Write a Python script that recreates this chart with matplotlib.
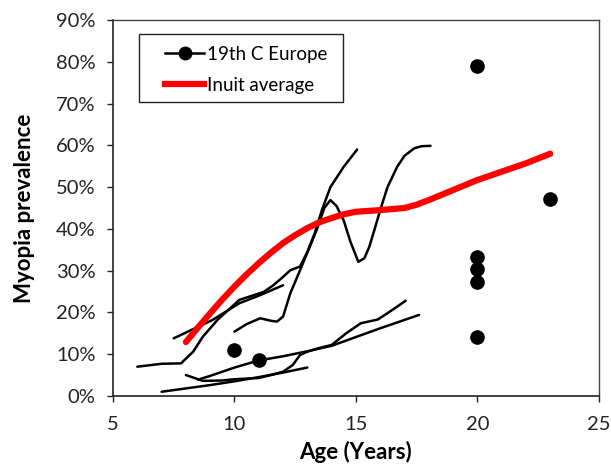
import numpy as np
import matplotlib.pyplot as plt
from matplotlib.lines import Line2D
from matplotlib.patches import Rectangle
from matplotlib.ticker import PercentFormatter

plt.rcParams['font.family'] = ['Lato', 'DejaVu Sans']

# 19th C Europe - individual studies (age, prevalence %)
line_a_x = [6, 7, 7.8, 8.3, 8.7, 9.3, 9.6, 10.2, 11.2, 11.6, 12.0, 12.3, 12.7, 13.0, 13.3, 13.6, 13.95, 14.5, 15.05]
line_a_y = [7.0, 7.7, 7.8, 10.6, 14.2, 18.2, 19.8, 23.0, 24.9, 26.5, 28.5, 30.1, 31.0, 34.5, 38.9, 44.5, 50.0, 54.9, 59.0]

line_b_x = [7.5, 9.1, 10.2, 11.0, 12.0]
line_b_y = [13.8, 18.2, 22.2, 24.0, 26.5]

line_c_x = [10.0, 10.5, 11.06, 11.5, 11.75, 12.0, 12.3, 12.7, 13.05, 13.4, 13.7, 13.95, 14.2, 14.5, 14.77, 15.1, 15.35,
            15.55, 15.8, 16.0, 16.3, 16.7, 17.0, 17.4, 17.7, 18.07]
line_c_y = [15.4, 17.2, 18.6, 18.0, 17.8, 19.0, 24.6, 30.1, 35.0, 40.0, 45.0, 46.9, 45.5, 42.0, 37.0, 32.1, 33.0,
            35.7, 40.5, 44.5, 50.0, 54.9, 57.5, 59.3, 59.8, 59.9]

line_d_x = [7, 8, 9, 10, 11, 12, 13]
line_d_y = [1.0, 1.8, 2.6, 3.5, 4.5, 5.6, 6.8]

line_e_x = [8.0, 8.7, 9.5, 10.0, 11.0, 11.5, 12.0, 12.4, 12.7, 13.0, 13.5, 14.0, 14.6, 15.2, 15.9, 16.4, 17.05]
line_e_y = [5.0, 3.6, 3.7, 4.0, 4.3, 5.0, 5.8, 7.4, 9.8, 10.6, 11.5, 12.2, 15.0, 17.4, 18.3, 20.2, 22.8]

line_f_x = [8.5, 9.0, 10.0, 11.0, 12.0, 13.0, 14.0, 15.0, 16.0, 17.0, 17.6]
line_f_y = [3.9, 4.8, 6.8, 8.5, 9.5, 10.7, 12.0, 14.1, 16.2, 18.2, 19.4]

europe_lines = [(line_a_x, line_a_y), (line_b_x, line_b_y), (line_c_x, line_c_y),
                (line_d_x, line_d_y), (line_e_x, line_e_y), (line_f_x, line_f_y)]

# single-point studies
point_x = [10, 11, 20, 20, 20, 20, 20, 23]
point_y = [11.0, 8.5, 79.0, 33.2, 30.3, 27.4, 14.0, 47.1]

# Inuit average
inuit_x = [8, 8.5, 9, 9.5, 10, 10.5, 11, 11.5, 12, 12.5, 13, 13.5, 14, 14.5, 15, 16, 17, 17.5, 18, 18.5, 19, 20, 21, 22, 23]
inuit_y = [12.9, 16.4, 19.8, 23.1, 26.2, 29.1, 31.8, 34.3, 36.6, 38.5, 40.2, 41.6, 42.6, 43.5, 44.1, 44.5, 45.0, 45.8,
           46.9, 48.1, 49.3, 51.7, 53.7, 55.7, 58.0]

fig = plt.figure(figsize=(6.11, 4.68), dpi=100)
ax = fig.add_axes([0.185, 0.154, 0.795, 0.803])

for lx, ly in europe_lines:
    ax.plot(lx, np.array(ly) / 100, color='black', lw=1.8, solid_capstyle='round')
ax.plot(point_x, np.array(point_y) / 100, 'o', color='black', ms=9.5, lw=0)
ax.plot(inuit_x, np.array(inuit_y) / 100, color='#ff0000', lw=4.5, solid_capstyle='round')

ax.set_xlim(5, 25)
ax.set_ylim(0, 0.9)
ax.set_xticks([5, 10, 15, 20, 25])
ax.set_yticks(np.arange(0, 0.91, 0.1))
ax.yaxis.set_major_formatter(PercentFormatter(1.0, decimals=0))
ax.tick_params(direction='out', length=4.5, width=1, labelsize=14.5, colors='#222222')
ax.tick_params(axis='x', pad=10)
ax.tick_params(axis='y', pad=8)

for s in ['left', 'bottom']:
    ax.spines[s].set_color('#222222')
    ax.spines[s].set_linewidth(1.2)
for s in ['top', 'right']:
    ax.spines[s].set_color('#444444')
    ax.spines[s].set_linewidth(1.0)

ax.set_xlabel('Age (Years)', fontsize=16, fontweight='bold', labelpad=6)
ax.set_ylabel('Myopia prevalence', fontsize=16, fontweight='bold', labelpad=15)

# legend box drawn separately to get the wide side padding
ax.add_patch(Rectangle((0.0535, 0.782), 0.42, 0.181, transform=ax.transAxes, fill=False,
                       edgecolor='#222222', lw=1.0, zorder=5))
handles = [Line2D([], [], color='black', lw=1.8, marker='o', ms=9),
           Line2D([], [], color='#ff0000', lw=4.5)]
leg = ax.legend(handles, ['19th C Europe', 'Inuit average'], loc='center left',
                bbox_to_anchor=(0.107, 0.868), fontsize=13.5, handlelength=2.1,
                handletextpad=0.15, borderpad=0, borderaxespad=0, labelspacing=0.75,
                frameon=False)

fig.savefig('out.png', dpi=100)
